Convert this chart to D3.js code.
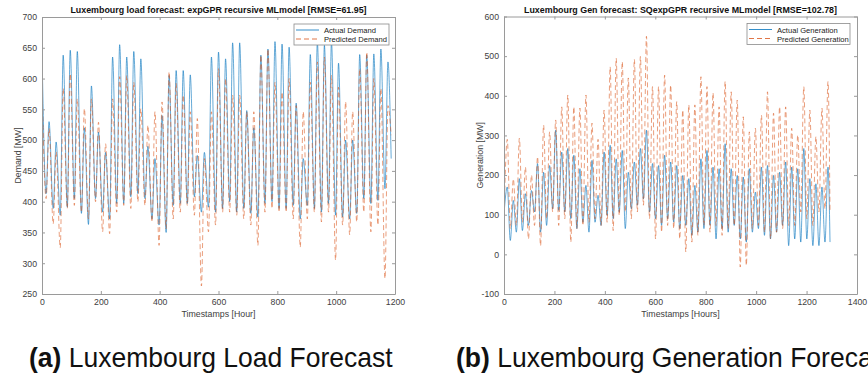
<!DOCTYPE html>
<html><head><meta charset="utf-8">
<script src="https://cdn.jsdelivr.net/npm/d3@7"></script>
<style>
body{margin:0;background:#fff}
svg{display:block}
text{font-family:"Liberation Sans",Arial,Helvetica,sans-serif}
</style>
</head><body><svg id="c" width="868" height="381"></svg>
<script>
// ---------------- DATA ----------------
// Load chart: one daily peak (hour 24*d) and one daily trough (hour 24*d+14)
const loadActualPeak = [645,530,497,638,646,644,520,588,513,480,635,655,635,644,632,490,470,540,605,613,613,606,475,480,635,643,632,658,658,548,520,638,648,660,656,651,560,470,639,660,654,660,625,500,500,639,638,640,648,627];
const loadActualTrough = [413,389,378,391,405,381,363,405,383,372,397,397,408,413,405,372,362,350,394,397,397,408,383,391,383,389,400,383,389,381,375,397,400,389,389,394,372,394,389,383,397,378,375,372,381,405,397,402,421];
const loadPredPeak = [590,519,481,584,608,567,551,567,529,494,567,603,605,594,551,524,546,562,611,592,573,546,535,470,546,616,600,573,573,546,546,638,648,594,578,600,556,546,594,627,635,605,586,562,546,616,643,600,584,556];
const loadPredTrough = [405,364,325,389,394,383,372,400,351,348,383,394,389,400,394,367,329,356,372,383,394,378,263,351,362,383,383,378,372,362,329,383,389,383,383,372,326,372,383,367,383,305,362,346,367,383,351,362,275];
const loadLast = {hour:1187, actual:470, predicted:508};

// Generation chart: daily night trough (hour 24*d+1) and midday peak (hour 24*d+13)
const genActualTrough = [110,35,56,60,73,107,56,73,115,111,107,90,65,81,56,81,73,98,90,107,65,115,124,140,107,90,73,90,81,65,73,48,56,65,73,39,65,56,73,39,31,56,65,48,39,56,73,22,39,31,39,22,22,31];
const genActualPeak = [170,136,191,153,161,229,207,224,313,258,267,250,216,174,237,149,258,275,241,262,207,233,267,313,229,224,250,233,224,199,191,174,241,262,220,216,279,216,199,195,216,157,220,224,199,207,233,220,216,267,191,178,170,220];
const genPredTrough = [120,65,73,81,39,73,22,90,107,73,90,31,65,73,81,90,73,81,60,98,107,90,107,124,90,39,56,73,65,39,6,31,48,73,56,73,48,65,73,-32,-28,65,73,56,39,56,65,73,73,107,90,73,107,115];
const genPredPeak = [290,190,293,220,200,246,326,309,339,372,402,372,369,402,331,290,364,473,495,486,445,492,499,550,423,423,452,427,385,364,377,377,448,423,407,372,436,410,389,347,309,318,351,410,356,372,372,318,301,423,364,297,369,436];
const genLast = {hour:1293, actual:31, predicted:107};

const loadXTicks = [0,200,400,600,800,1000,1200];
const loadYTicks = [250,300,350,400,450,500,550,600,650,700];
const genXTicks = [0,200,400,600,800,1000,1200,1400];
const genYTicks = [-100,0,100,200,300,400,500,600];

const titles = ["Luxembourg load forecast: expGPR recursive MLmodel [RMSE=61.95]",
                "Luxembourg Gen forecast: SQexpGPR recursive MLmodel [RMSE=102.78]"];
const legendLoad = ["Actual Demand","Predicted Demand"];
const legendGen = ["Actual Generation","Predicted Generation"];
const captionLabels = ["(a)","(b)"];
const captionTexts = [" Luxembourg Load Forecast"," Luxembourg Generation Forecast"];

// ---------------- BUILD SERIES ----------------
function buildLoad(peaks, troughs, last){
  const pts=[];
  peaks.forEach((p,d)=>{
    pts.push([24*d,p]);
    if(d<troughs.length) pts.push([24*d+14,troughs[d]]);
  });
  pts.push([last.hour,last.v]);
  return pts;
}
function buildGen(troughs, peaks, last){
  const pts=[];
  troughs.forEach((t,d)=>{
    pts.push([24*d+1,t]);
    pts.push([24*d+13,peaks[d]]);
  });
  pts.push([last.hour,last.v]);
  return pts;
}
const loadA = buildLoad(loadActualPeak, loadActualTrough, {hour:loadLast.hour,v:loadLast.actual});
const loadP = buildLoad(loadPredPeak, loadPredTrough, {hour:loadLast.hour,v:loadLast.predicted});
const genA = buildGen(genActualTrough, genActualPeak, {hour:genLast.hour,v:genLast.actual});
const genP = buildGen(genPredTrough, genPredPeak, {hour:genLast.hour,v:genLast.predicted});

// ---------------- DRAW ----------------
const svg = d3.select("#c");
const BLUE="#0072BD", ORANGE="#D95319", AXIS="#9a9a9a", LABEL="#404040";

function panel(cfg){
  const {x,y,xt,yt,a,p,title,leg,ylab,xlab,legBox,id}=cfg;
  const g=svg.append("g");
  const [x0,x1]=x.range(), [y0,y1]=y.range();
  g.append("clipPath").attr("id",id).append("rect")
    .attr("x",x0).attr("y",y1).attr("width",x1-x0).attr("height",y0-y1);
  const line=d3.line().curve(d3.curveMonotoneX).x(d=>x(d[0])).y(d=>y(d[1]));
  const plot=g.append("g").attr("clip-path",`url(#${id})`);
  plot.append("path").datum(a).attr("d",line).attr("fill","none")
    .attr("stroke",BLUE).attr("stroke-width",0.75).attr("stroke-opacity",0.8);
  plot.append("path").datum(p).attr("d",line).attr("fill","none")
    .attr("stroke",ORANGE).attr("stroke-width",0.75).attr("stroke-dasharray","5,3").attr("stroke-opacity",0.75);

  const fmt=d=>String(d);
  const bottom=g.append("g").attr("transform",`translate(0,${y0})`)
    .call(d3.axisBottom(x).tickValues(xt).tickFormat(fmt).tickSizeInner(-3).tickSizeOuter(0).tickPadding(5));
  const top=g.append("g").attr("transform",`translate(0,${y1})`)
    .call(d3.axisTop(x).tickValues(xt).tickFormat("").tickSizeInner(-3).tickSizeOuter(0));
  const left=g.append("g").attr("transform",`translate(${x0},0)`)
    .call(d3.axisLeft(y).tickValues(yt).tickFormat(fmt).tickSizeInner(-3).tickSizeOuter(0).tickPadding(5));
  const right=g.append("g").attr("transform",`translate(${x1},0)`)
    .call(d3.axisRight(y).tickValues(yt).tickFormat("").tickSizeInner(-3).tickSizeOuter(0));
  [bottom,top,left,right].forEach(ax=>{
    ax.select(".domain").attr("stroke",AXIS).attr("stroke-width",1);
    ax.selectAll(".tick line").attr("stroke",AXIS);
    ax.selectAll(".tick text").attr("fill",LABEL).attr("font-size","8.7px")
      .attr("font-family","Liberation Sans, Arial, sans-serif");
  });

  g.append("text").attr("x",(x0+x1)/2).attr("y",y1-4).attr("text-anchor","middle")
    .attr("font-weight","bold").attr("font-size","8.9px").attr("fill","#111").text(title);
  g.append("text").attr("x",(x0+x1)/2).attr("y",y0+23).attr("text-anchor","middle")
    .attr("font-size","8.8px").attr("fill",LABEL).text(xlab);
  g.append("text").attr("transform",`translate(${x0-21},${(y0+y1)/2}) rotate(-90)`)
    .attr("text-anchor","middle").attr("font-size","8.8px").attr("fill",LABEL).text(ylab);

  // legend
  const lg=g.append("g");
  lg.append("rect").attr("x",legBox[0]).attr("y",legBox[1]).attr("width",legBox[2]).attr("height",legBox[3])
    .attr("fill","#fff").attr("stroke","#8a8a8a").attr("stroke-width",0.8);
  const lx=legBox[0]+2, ly=legBox[1]+6;
  lg.append("line").attr("x1",lx).attr("x2",lx+23).attr("y1",ly).attr("y2",ly)
    .attr("stroke",BLUE).attr("stroke-width",0.8);
  lg.append("line").attr("x1",lx).attr("x2",lx+23).attr("y1",ly+9).attr("y2",ly+9)
    .attr("stroke",ORANGE).attr("stroke-width",0.8).attr("stroke-dasharray","5,3");
  lg.selectAll("text.leg").data(leg).enter().append("text").attr("class","leg")
    .attr("x",lx+28).attr("y",(d,i)=>ly+3+9*i).attr("font-size","7.6px").attr("fill","#222").text(d=>d);
}

panel({id:"cl", x:d3.scaleLinear().domain([0,1200]).range([42,395]),
       y:d3.scaleLinear().domain([250,700]).range([294,17]),
       xt:loadXTicks, yt:loadYTicks, a:loadA, p:loadP, title:titles[0], leg:legendLoad,
       ylab:"Demand [MW]", xlab:"Timestamps [Hour]", legBox:[294,24,95,21]});
panel({id:"cg", x:d3.scaleLinear().domain([0,1400]).range([504,857]),
       y:d3.scaleLinear().domain([-100,600]).range([294,16.5]),
       xt:genXTicks, yt:genYTicks, a:genA, p:genP, title:titles[1], leg:legendGen,
       ylab:"Generation [MW]", xlab:"Timestamps [Hours]", legBox:[747,23.5,103,21]});

// captions (the reference itself is cropped at the right edge)
const capX=[29,456];
captionLabels.forEach((lab,i)=>{
  const t=svg.append("text").attr("transform",`translate(${capX[i]},367) scale(1,1.05)`)
    .attr("font-size","26.5px").attr("fill","#111");
  t.append("tspan").attr("font-weight","bold").text(lab);
  t.append("tspan").text(captionTexts[i]);
});
</script>
</body></html>
